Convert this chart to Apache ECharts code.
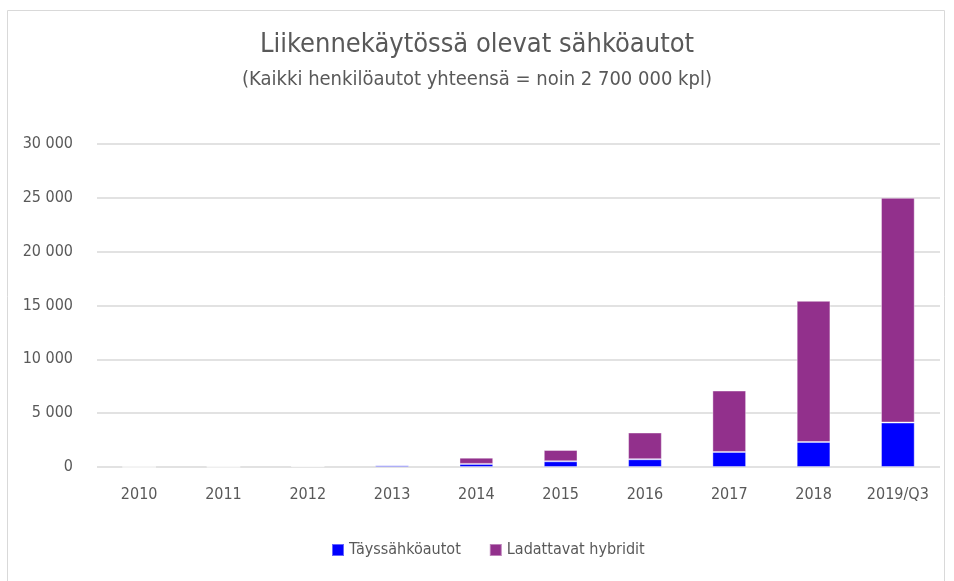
<!DOCTYPE html>
<html lang="fi">
<head>
<meta charset="utf-8">
<script src="https://cdn.jsdelivr.net/npm/echarts@6/dist/echarts.min.js"></script>
<style>
  html, body { margin: 0; padding: 0; background: #fff; }
  #chart { width: 954px; height: 581px; }
</style>
</head>
<body>
<div id="chart"></div>
<script>
  var years = ['2010', '2011', '2012', '2013', '2014', '2015', '2016', '2017', '2018', '2019/Q3'];
  var taysi = [5, 15, 70, 170, 290, 530, 720, 1400, 2320, 4130];
  var hybridit = [0, 25, 20, 30, 580, 1050, 2480, 5700, 13110, 20870];
  var yTicks = [0, 5000, 10000, 15000, 20000, 25000, 30000];

  var font = '"Liberation Sans Narrow", "DejaVu Sans Condensed", sans-serif';
  var chart = echarts.init(document.getElementById('chart'));

  chart.setOption({
    animation: false,
    textStyle: { fontFamily: font, color: '#595959' },
    title: [{
      text: 'Liikennekäytössä olevat sähköautot',
      left: 'center',
      top: 26,
      textStyle: { fontFamily: font, fontSize: 27, fontWeight: 'normal', color: '#595959' }
    }, {
      text: '(Kaikki henkilöautot yhteensä = noin 2 700 000 kpl)',
      left: 'center',
      top: 65,
      textStyle: { fontFamily: font, fontSize: 20, fontWeight: 'normal', color: '#595959' }
    }],
    graphic: [{
      type: 'rect',
      shape: { x: 7.5, y: 10.5, width: 937, height: 580 },
      style: { fill: 'none', stroke: '#d9d9d9', lineWidth: 1 },
      silent: true
    }],
    legend: {
      bottom: 18,
      left: 326,
      itemWidth: 12,
      itemHeight: 12,
      itemGap: 28,
      icon: 'rect',
      textStyle: { fontFamily: font, fontSize: 16, color: '#595959' },
      data: ['Täyssähköautot', 'Ladattavat hybridit']
    },
    grid: { left: 97, right: 14, top: 144, bottom: 114 },
    xAxis: {
      type: 'category',
      data: years,
      axisLine: { show: false },
      axisTick: { show: false },
      axisLabel: { fontFamily: font, fontSize: 16, color: '#595959', margin: 20 }
    },
    yAxis: {
      type: 'value',
      min: 0,
      max: yTicks[yTicks.length - 1],
      interval: 5000,
      axisLine: { show: false },
      axisTick: { show: false },
      splitLine: { lineStyle: { color: '#d9d9d9', width: 1.5 } },
      axisLabel: {
        fontFamily: font, fontSize: 16, color: '#595959', margin: 24,
        formatter: function (v) {
          return String(v).replace(/\B(?=(\d{3})+(?!\d))/g, ' ');
        }
      }
    },
    series: [{
      name: 'Täyssähköautot',
      type: 'bar',
      stack: 'autot',
      barWidth: '40%',
      itemStyle: { color: '#0000ff', borderColor: 'rgba(255,255,255,0.4)', borderWidth: 1 },
      data: taysi
    }, {
      name: 'Ladattavat hybridit',
      type: 'bar',
      stack: 'autot',
      barWidth: '40%',
      itemStyle: { color: '#92308c', borderColor: 'rgba(255,255,255,0.4)', borderWidth: 1 },
      data: hybridit
    }]
  });
</script>
</body>
</html>
